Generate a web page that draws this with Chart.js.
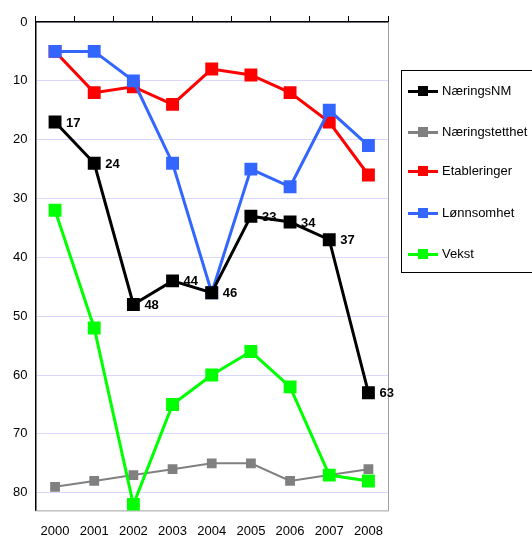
<!DOCTYPE html>
<html>
<head>
<meta charset="utf-8">
<script src="https://cdn.jsdelivr.net/npm/chart.js@4"></script>
<style>
  body { margin: 0; background: #fff; font-family: "Liberation Sans", Arial, sans-serif; }
  #wrap { position: relative; width: 532px; height: 539px; overflow: hidden; }
  #chart { display: block; }
  #legend { position: absolute; left: 401px; top: 70px; width: 140px; height: 203px; border: 1px solid #000; box-sizing: border-box; }
  .item { position: absolute; left: 6px; height: 16px; font-size: 13px; line-height: 16px; color: #000; white-space: nowrap; }
  .sw { display: inline-block; position: relative; width: 30px; height: 16px; vertical-align: top; margin-right: 4px; }
  .sw i { position: absolute; left: 0; top: 7px; width: 30px; height: 3px; }
  .sw b { position: absolute; left: 10px; top: 3px; width: 10px; height: 10px; }
</style>
</head>
<body>
<div id="wrap">
  <canvas id="chart" width="532" height="539"></canvas>
  <div id="legend"></div>
</div>
<script>
const years = ["2000", "2001", "2002", "2003", "2004", "2005", "2006", "2007", "2008"];
const seriesNames = ["NæringsNM", "Næringstetthet", "Etableringer", "Lønnsomhet", "Vekst"];
const naeringsNM = [17, 24, 48, 44, 46, 33, 34, 37, 63];
const naeringstetthet = [79, 78, 77, 76, 75, 75, 78, 77, 76];
const etableringer = [5, 12, 11, 14, 8, 9, 12, 17, 26];
const lonnsomhet = [5, 5, 10, 24, 46, 25, 28, 15, 21];
const vekst = [32, 52, 82, 65, 60, 56, 62, 77, 78];
const yTicks = [0, 10, 20, 30, 40, 50, 60, 70, 80];

const colors = ['#000000', '#808080', '#ff0000', '#3366ff', '#00ff00'];
const values = [naeringsNM, naeringstetthet, etableringer, lonnsomhet, vekst];
const widths = [3, 2, 3, 3, 3];
const radii = [7, 5.5, 7, 7, 7];

const datasets = seriesNames.map((name, i) => ({
    label: name,
    data: values[i],
    borderColor: colors[i],
    backgroundColor: colors[i],
    borderWidth: widths[i],
    pointStyle: 'rect',
    pointRadius: radii[i],
    pointHoverRadius: radii[i],
    tension: 0
}));
// draw order: green, blue, red, gray, black on top
datasets.forEach((d, i) => { d.order = [1, 5, 3, 2, 4][i]; });

// labels next to the NæringsNM points
const valueLabels = {
    id: 'valueLabels',
    afterDatasetsDraw(chart) {
        const ctx = chart.ctx;
        const meta = chart.getDatasetMeta(0);
        ctx.save();
        ctx.font = 'bold 13px "Liberation Sans", Arial, sans-serif';
        ctx.fillStyle = '#000';
        ctx.textBaseline = 'middle';
        meta.data.forEach((pt, i) => {
            ctx.fillText(String(naeringsNM[i]), pt.x + 11, pt.y + 1);
        });
        ctx.restore();
    }
};

// gray right and bottom frame of the plot area
const frame = {
    id: 'frame',
    beforeDatasetsDraw(chart) {
        const a = chart.chartArea;
        const ctx = chart.ctx;
        ctx.save();
        ctx.strokeStyle = '#a0a0a0';
        ctx.lineWidth = 1;
        ctx.beginPath();
        ctx.moveTo(a.right + 0.5, a.top);
        ctx.lineTo(a.right + 0.5, a.bottom + 0.5);
        ctx.lineTo(a.left, a.bottom + 0.5);
        ctx.stroke();
        ctx.restore();
    }
};

new Chart(document.getElementById('chart'), {
    type: 'line',
    data: { labels: years, datasets: datasets },
    options: {
        responsive: false,
        animation: false,
        layout: { padding: { left: 5, right: 144, top: 16, bottom: -13 } },
        plugins: { legend: { display: false }, tooltip: { enabled: false } },
        scales: {
            x: {
                position: 'bottom',
                offset: true,
                grid: { display: false, drawTicks: false },
                border: { display: false },
                ticks: { color: '#000', font: { size: 13, family: '"Liberation Sans", Arial, sans-serif' }, padding: 13, maxRotation: 0 }
            },
            x2: {
                position: 'top',
                type: 'category',
                labels: years,
                offset: true,
                grid: { offset: true, drawOnChartArea: false, tickLength: 6, color: '#000' },
                border: { display: true, color: '#000', width: 1.5 },
                ticks: { display: false }
            },
            y: {
                reverse: true,
                min: 0,
                max: 83,
                afterBuildTicks(axis) { axis.ticks = yTicks.map(v => ({ value: v })); },
                grid: { color: '#d8d8ff', drawTicks: false, lineWidth: 1 },
                border: { display: true, color: '#000', width: 1.5 },
                ticks: { color: '#000', font: { size: 13, family: '"Liberation Sans", Arial, sans-serif' }, padding: 8 }
            }
        }
    },
    plugins: [frame, valueLabels]
});

// legend box
const legend = document.getElementById('legend');
const itemTops = [12, 53, 92, 134, 175];
seriesNames.forEach((name, i) => {
    const div = document.createElement('div');
    div.className = 'item';
    div.style.top = itemTops[i] + 'px';
    const sw = document.createElement('span');
    sw.className = 'sw';
    const line = document.createElement('i');
    line.style.background = colors[i];
    const box = document.createElement('b');
    box.style.background = colors[i];
    sw.appendChild(line);
    sw.appendChild(box);
    div.appendChild(sw);
    div.appendChild(document.createTextNode(name));
    legend.appendChild(div);
});
</script>
</body>
</html>
